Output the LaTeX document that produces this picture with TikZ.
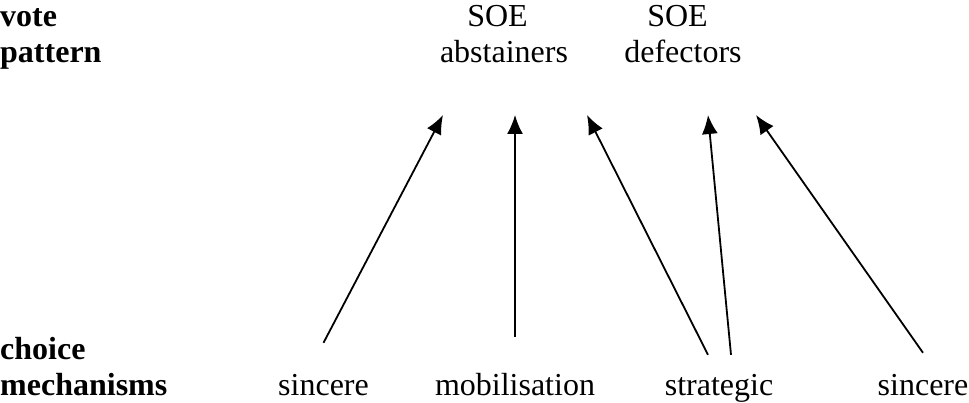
\documentclass[tikz,border=0pt]{standalone}
\usepackage{fontspec}
\setmainfont{Liberation Serif}
\usetikzlibrary{arrows.meta}

\begin{document}
\begin{tikzpicture}[
    x=1pt, y=-1pt,
    >=Latex,
    lab/.style={
        inner sep=0pt,
        text height=22pt,
        text depth=7pt,
        font=\fontsize{32}{36}\selectfont
    },
    head/.style={
        lab,
        anchor=base west,
        font=\fontsize{32}{36}\selectfont\bfseries
    },
    arrow/.style={-{Latex[length=19pt,width=16pt]}, line width=1.8pt}
]
\useasboundingbox (0,0) rectangle (969,403);

% row titles
\node[head] (vote) at (0,27) {vote};
\node[head] (pattern) at (0,63) {pattern};
\node[head] (choice) at (0,359) {choice};
\node[head] (mech) at (0,395) {mechanisms};

% vote patterns
\node[lab, anchor=base] (soeA) at (497.5,27) {SOE};
\node[lab, anchor=base] (abst) at (504,63) {abstainers};
\node[lab, anchor=base] (soeB) at (677.5,27) {SOE};
\node[lab, anchor=base] (defe) at (683,63) {defectors};

% mechanisms
\node[lab, anchor=base] (sincA) at (323.5,395) {sincere};
\node[lab, anchor=base] (mobil) at (515,395) {mobilisation};
\node[lab, anchor=base] (strat) at (719,395) {strategic};
\node[lab, anchor=base] (sincB) at (923,395) {sincere};

\coordinate (tip1) at (443,115);
\coordinate (tip2) at (515,115);
\coordinate (tip3) at (587,115);
\coordinate (tip4) at (708,115);
\coordinate (tip5) at (756,115);

\draw[arrow] ([yshift=30pt]sincA.north) -- (tip1);
\draw[arrow] ([yshift=36pt]mobil.north) -- (tip2);
\draw[arrow] ([xshift=-11pt, yshift=18pt]strat.north) -- (tip3);
\draw[arrow] ([xshift=12pt, yshift=18pt]strat.north) -- (tip4);
\draw[arrow] ([yshift=20pt]sincB.north) -- (tip5);

\end{tikzpicture}
\end{document}
